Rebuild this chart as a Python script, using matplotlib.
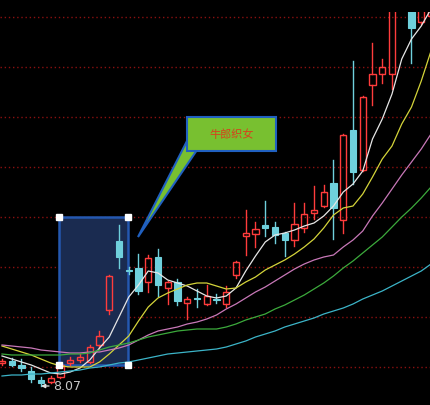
import matplotlib
matplotlib.use("Agg")
import matplotlib.pyplot as plt
from matplotlib.patches import Rectangle, Polygon

# ---------------------------------------------------------------------------
# daily candles (price)
# ---------------------------------------------------------------------------
opens = [8.53, 8.57, 8.49, 8.37, 8.19, 8.15, 8.25, 8.53, 8.59, 8.55,
         8.89, 9.59, 10.97, 10.39, 10.43, 10.15, 10.65, 10.03, 10.15, 9.73,
         9.83, 9.71, 9.81, 9.71, 10.29, 11.07, 11.11, 11.29, 11.25, 11.13,
         10.99, 11.23, 11.53, 11.67, 12.13, 11.39, 13.19, 12.39, 14.09, 14.31,
         14.31, 15.81, 16.21, 15.35, 15.47]
highs = [8.61, 8.63, 8.61, 8.45, 8.25, 8.27, 8.53, 8.65, 8.71, 8.89,
         9.17, 10.29, 11.29, 10.45, 10.71, 10.69, 10.81, 10.17, 10.21, 9.85,
         10.01, 10.09, 9.91, 10.07, 10.57, 11.59, 11.35, 11.77, 11.35, 11.15,
         11.73, 11.73, 12.07, 12.09, 12.59, 13.11, 14.57, 13.87, 14.93, 14.61,
         16.11, 16.71, 16.31, 16.31, 16.41]
lows = [8.49, 8.47, 8.37, 8.15, 8.07, 8.13, 8.23, 8.49, 8.55, 8.53,
        8.81, 9.51, 10.43, 10.31, 9.91, 9.95, 9.87, 9.71, 9.69, 9.41,
        9.65, 9.69, 9.73, 9.65, 10.23, 10.69, 10.85, 11.07, 10.93, 10.67,
        10.87, 11.15, 11.41, 11.65, 11.01, 11.13, 12.11, 12.37, 13.69, 14.13,
        14.01, 15.65, 14.53, 15.31, 15.45]
closes = [8.57, 8.49, 8.43, 8.21, 8.13, 8.23, 8.49, 8.59, 8.65, 8.85,
          9.07, 10.27, 10.65, 10.37, 9.97, 10.63, 10.09, 10.15, 9.77, 9.81,
          9.81, 9.87, 9.79, 9.95, 10.55, 11.13, 11.21, 11.23, 11.09, 10.99,
          11.31, 11.51, 11.59, 11.95, 11.63, 13.09, 12.35, 13.85, 14.31, 14.45,
          16.01, 16.61, 15.23, 16.21, 16.41]

# moving averages
ma5 = [8.67, 8.61, 8.55, 8.49, 8.41, 8.33, 8.31, 8.35, 8.43, 8.59,
       8.83, 9.05, 9.45, 9.85, 10.09, 10.37, 10.33, 10.19, 10.13, 10.07,
       9.97, 9.87, 9.83, 9.87, 10.03, 10.37, 10.67, 10.95, 11.09, 11.13,
       11.19, 11.27, 11.33, 11.47, 11.67, 11.95, 12.11, 12.37, 13.01, 13.41,
       13.91, 14.61, 15.01, 15.27, 15.61]
ma10 = [8.87, 8.81, 8.75, 8.69, 8.61, 8.53, 8.47, 8.45, 8.45, 8.45,
        8.55, 8.71, 8.89, 9.07, 9.37, 9.65, 9.83, 9.93, 10.01, 10.09,
        10.13, 10.13, 10.07, 10.01, 10.03, 10.15, 10.25, 10.39, 10.49, 10.59,
        10.71, 10.85, 11.01, 11.23, 11.49, 11.63, 11.67, 11.91, 12.25, 12.61,
        12.87, 13.31, 13.65, 14.17, 14.77]
ma20 = [8.89, 8.87, 8.85, 8.83, 8.79, 8.77, 8.75, 8.73, 8.73, 8.75,
        8.75, 8.79, 8.83, 8.89, 8.99, 9.09, 9.17, 9.21, 9.25, 9.31,
        9.35, 9.41, 9.49, 9.61, 9.71, 9.83, 9.95, 10.05, 10.17, 10.29,
        10.41, 10.51, 10.59, 10.65, 10.69, 10.85, 10.99, 11.17, 11.47, 11.73,
        12.01, 12.29, 12.55, 12.81, 13.11]
ma30 = [8.71, 8.69, 8.69, 8.69, 8.69, 8.69, 8.69, 8.71, 8.71, 8.73,
        8.79, 8.85, 8.89, 8.93, 8.99, 9.05, 9.09, 9.13, 9.17, 9.19,
        9.21, 9.21, 9.21, 9.25, 9.31, 9.39, 9.45, 9.51, 9.61, 9.69,
        9.79, 9.89, 10.01, 10.13, 10.27, 10.43, 10.57, 10.73, 10.89, 11.05,
        11.25, 11.45, 11.63, 11.83, 12.05]
ma60 = [8.27, 8.29, 8.29, 8.31, 8.31, 8.33, 8.35, 8.37, 8.39, 8.43,
        8.45, 8.49, 8.53, 8.55, 8.59, 8.63, 8.67, 8.71, 8.73, 8.75,
        8.77, 8.79, 8.81, 8.85, 8.91, 8.97, 9.05, 9.11, 9.17, 9.25,
        9.31, 9.37, 9.43, 9.51, 9.57, 9.63, 9.71, 9.81, 9.89, 9.97,
        10.07, 10.17, 10.27, 10.37, 10.51]

low_label = "8.07"
callout_text = "牛郎织女"

RED = "#ff3c3c"
CYAN = "#6fd0dc"
MA_STYLES = [(ma5, "#e6e6e6"), (ma10, "#d4d43a"), (ma20, "#c878b8"),
             (ma30, "#3caa3c"), (ma60, "#3cb4c8")]

W, H = 431, 406
fig = plt.figure(figsize=(W / 100, H / 100), dpi=100, facecolor="black")
ax = fig.add_axes([0, 0, 1, (H - 13) / H])
ax.set_facecolor("black")
ax.set_xlim(-0.205, 44.0)
ax.set_ylim(7.69, 15.55)
ax.axis("off")

# dotted red price grid
for lvl in [8.45, 9.45, 10.45, 11.45, 12.45, 13.45, 14.45, 15.45]:
    ax.axhline(lvl, color="#8a1010", lw=1.0, ls=(0, (1, 2)), zorder=0)

# highlighted zone (drawn behind the candles)
zone = Rectangle((5.85, 8.49), 12.92 - 5.85, 11.45 - 8.49,
                 facecolor="#1a2b50", edgecolor="#2458b0", lw=1.8, zorder=0.5)
ax.add_patch(zone)

bw = 0.66
for i, (o, h, l, c) in enumerate(zip(opens, highs, lows, closes)):
    top, bot = max(o, c), min(o, c)
    if c >= o:
        ax.plot([i, i], [top, h], color=RED, lw=1.0, zorder=3)
        ax.plot([i, i], [l, bot], color=RED, lw=1.0, zorder=3)
        ax.add_patch(Rectangle((i - bw / 2, bot), bw, max(top - bot, 0.02),
                               facecolor="none", edgecolor=RED, lw=1.0, zorder=3))
    else:
        ax.plot([i, i], [l, h], color=CYAN, lw=1.0, zorder=3)
        ax.add_patch(Rectangle((i - bw / 2, bot), bw, max(top - bot, 0.03),
                               facecolor=CYAN, edgecolor=CYAN, lw=0.8, zorder=3))

x = list(range(len(closes)))
for vals, col in MA_STYLES:
    ax.plot(x, vals, color=col, lw=0.9, zorder=4)

# corner handles of the zone
for hx in (5.85, 12.92):
    for hy in (8.49, 11.45):
        ax.plot(hx, hy, marker="s", ms=4.5, color="white", mec="white", zorder=6)

# lowest price marker
low_i = lows.index(min(lows))
ax.annotate(low_label, xy=(low_i, min(lows)), xytext=(low_i + 1.25, min(lows)),
            color="#c8c8c8", fontsize=9, va="center", ha="left",
            arrowprops=dict(arrowstyle="-|>", color="#e0e0e0", lw=0.9,
                            mutation_scale=6, shrinkA=1, shrinkB=0), zorder=7)

# callout in pixel coordinates
ov = fig.add_axes([0, 0, 1, 1])
ov.set_xlim(0, W)
ov.set_ylim(H, 0)
ov.axis("off")
ov.patch.set_alpha(0)
ov.add_patch(Polygon([(187, 142), (197, 151), (138, 238)], closed=True,
                     facecolor="#78c030", edgecolor="#2060c0", lw=1.5, zorder=2))
ov.add_patch(Rectangle((187, 118), 89, 34, facecolor="#78c030",
                       edgecolor="#2060c0", lw=1.5, zorder=3))
ov.text(231.5, 135, callout_text, color="#d8401c", fontsize=8,
        family=["Noto Sans CJK SC", "DejaVu Sans"], ha="center", va="center", zorder=4)

fig.savefig("out.png", dpi=100, facecolor="black")
